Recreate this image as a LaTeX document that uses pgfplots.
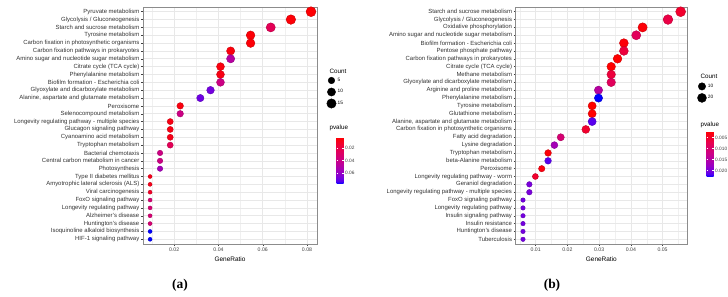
\documentclass[border=0pt]{standalone}
\usepackage{fontspec}
\setmainfont{Liberation Sans}
\newfontfamily\panelfont{Liberation Serif}
\usepackage{pgfplots}
\pgfplotsset{compat=1.18}
\usepackage{pgfplotstable}

% KEGG enrichment, panel (a)
\pgfplotstableread[col sep=semicolon]{
row;ratio;count;p;name
1;0.0818;18;0.003;Pyruvate metabolism
2;0.0727;16;0.004;Glycolysis / Gluconeogenesis
3;0.0636;14;0.0235;Starch and sucrose metabolism
4;0.0545;12;0.004;Tyrosine metabolism
5;0.0545;12;0.004;Carbon fixation in photosynthetic organisms
6;0.0455;10;0.005;Carbon fixation pathways in prokaryotes
7;0.0455;10;0.0475;Amino sugar and nucleotide sugar metabolism
8;0.0409;9;0.006;Citrate cycle (TCA cycle)
9;0.0409;9;0.007;Phenylalanine metabolism
10;0.0409;9;0.0385;Biofilm formation - Escherichia coli
11;0.0364;8;0.068;Glyoxylate and dicarboxylate metabolism
12;0.0318;7;0.069;Alanine, aspartate and glutamate metabolism
13;0.0227;5;0.006;Peroxisome
14;0.0227;5;0.0385;Selenocompound metabolism
15;0.0182;4;0.007;Longevity regulating pathway - multiple species
16;0.0182;4;0.007;Glucagon signaling pathway
17;0.0182;4;0.008;Cyanoamino acid metabolism
18;0.0182;4;0.0235;Tryptophan metabolism
19;0.0136;3;0.038;Bacterial chemotaxis
20;0.0136;3;0.038;Central carbon metabolism in cancer
21;0.0136;3;0.055;Photosynthesis
22;0.0091;2;0.0085;Type II diabetes mellitus
23;0.0091;2;0.0085;Amyotrophic lateral sclerosis (ALS)
24;0.0091;2;0.0115;Viral carcinogenesis
25;0.0091;2;0.0325;FoxO signaling pathway
26;0.0091;2;0.0325;Longevity regulating pathway
27;0.0091;2;0.0325;Alzheimer's disease
28;0.0091;2;0.0325;Huntington's disease
29;0.0091;2;0.0776;Isoquinoline alkaloid biosynthesis
30;0.0091;2;0.0776;HIF-1 signaling pathway
}\tabA

% KEGG enrichment, panel (b)
\pgfplotstableread[col sep=semicolon]{
row;ratio;count;p;name
1;0.0557;28;0.005;Starch and sucrose metabolism
2;0.0517;26;0.0066;Glycolysis / Gluconeogenesis
3;0.0437;22;0.0025;Oxidative phosphorylation
4;0.0417;21;0.0083;Amino sugar and nucleotide sugar metabolism
5;0.0378;19;0.0025;Biofilm formation - Escherichia coli
6;0.0378;19;0.006;Pentose phosphate pathway
7;0.0358;18;0.002;Carbon fixation pathways in prokaryotes
8;0.0338;17;0.002;Citrate cycle (TCA cycle)
9;0.0338;17;0.006;Methane metabolism
10;0.0338;17;0.0083;Glyoxylate and dicarboxylate metabolism
11;0.0298;15;0.0146;Arginine and proline metabolism
12;0.0298;15;0.023;Phenylalanine metabolism
13;0.0278;14;0.002;Tyrosine metabolism
14;0.0278;14;0.002;Glutathione metabolism
15;0.0278;14;0.0215;Alanine, aspartate and glutamate metabolism
16;0.0258;13;0.005;Carbon fixation in photosynthetic organisms
17;0.0179;9;0.0104;Fatty acid degradation
18;0.0159;8;0.0167;Lysine degradation
19;0.0139;7;0.0025;Tryptophan metabolism
20;0.0139;7;0.0215;beta-Alanine metabolism
21;0.0119;6;0.003;Peroxisome
22;0.0099;5;0.005;Longevity regulating pathway - worm
23;0.0080;4;0.0199;Geraniol degradation
24;0.0080;4;0.0199;Longevity regulating pathway - multiple species
25;0.0060;3;0.0203;FoxO signaling pathway
26;0.0060;3;0.0203;Longevity regulating pathway
27;0.0060;3;0.0203;Insulin signaling pathway
28;0.0060;3;0.0203;Insulin resistance
29;0.0060;3;0.0203;Huntington's disease
30;0.0060;3;0.0203;Tuberculosis
}\tabB

% colour scale runs on -p, so that small p-values (red) sit at the top of the bar
\pgfplotsset{
  colormap={pv}{rgb255(0cm)=(0,0,255) rgb255(1cm)=(84,0,240) rgb255(2cm)=(115,0,224)
    rgb255(4cm)=(154,0,195) rgb255(8cm)=(202,0,137) rgb255(12cm)=(232,0,79) rgb255(16cm)=(255,0,0)},
  dot/.style={
    scale only axis, height=237bp, anchor=south west,
    y dir=reverse, ymin=0.4, ymax=30.6, ytick={1,...,30},
    xtick pos=bottom, ytick pos=left, scaled x ticks=false,
    tick align=outside, major tick length=2bp, minor tick length=0pt,
    tick style={black!75, line width=0.45bp},
    axis line style={black!45, line width=0.5bp},
    xmajorgrids, ymajorgrids, xminorgrids,
    major grid style={black!9, line width=0.6bp},
    minor grid style={black!6, line width=0.35bp},
    y tick label style={font=\fontsize{6}{6}\selectfont, text=black!80, inner sep=1.5bp},
    x tick label style={font=\fontsize{5.2}{5.2}\selectfont, text=black!75, inner sep=1.5bp,
      /pgf/number format/fixed, /pgf/number format/fixed zerofill,
      /pgf/number format/precision=2, /pgf/number format/assume math mode=true},
    colormap name=pv,
    legend cell align=left,
    legend style={draw=none, fill=none, font=\fontsize{4.8}{4.8}\selectfont,
      inner sep=0pt, row sep=0pt, column sep=1bp,
      nodes={inner sep=0.5bp, minimum height=11.5bp}},
    legend image code/.code={\draw[#1] plot coordinates {(0bp,0bp)};},
  },
  cbar/.style={
    scale only axis, width=7bp, scaled y ticks=false,
    axis line style={draw=none},
    tick align=inside, major tick length=1.6bp,
    tick style={white, line width=0.5bp},
    yticklabel pos=right,
    yticklabel style={font=\fontsize{4.8}{4.8}\selectfont, text=black!75, inner sep=1.5bp},
  },
}

\begin{document}
\begin{tikzpicture}
\useasboundingbox (0,0) rectangle (728bp,297bp);

% ---------- panel (a) ----------
\begin{axis}[dot, name=A, at={(143bp,53bp)}, width=174bp,
  xmin=0.0059, xmax=0.0845,
  xtick={0.02,0.04,0.06,0.08}, minor xtick={0.01,0.03,0.05,0.07},
  yticklabels from table={\tabA}{name},
  point meta min=-0.0776, point meta max=-0.0024,
  colorbar,
  colorbar style={cbar, at={(parent axis.north east)}, anchor=north west,
    xshift=11bp, yshift=-130bp, height=47bp,
    ytick={-0.06,-0.04,-0.02}, yticklabels={0.06,0.04,0.02}},
  legend style={at={(axis description cs:1.055,0.715)}, anchor=north west},
]
\addplot[scatter, only marks, mark=*, forget plot,
  point meta={-\thisrow{p}},
  visualization depends on={2+3*sqrt((\thisrow{count}-2)/16) \as \msz},
  scatter/@pre marker code/.append style={/tikz/mark size=\msz}]
  table[x=ratio, y=row] {\tabA};
\addlegendimage{only marks, mark=*, black, mark size=3.3bp}
\addlegendentry{5}
\addlegendimage{only marks, mark=*, black, mark size=4.1bp}
\addlegendentry{10}
\addlegendimage{only marks, mark=*, black, mark size=4.7bp}
\addlegendentry{15}
\end{axis}
\node[anchor=north] at ([yshift=-9bp]A.south) {\fontsize{6.5}{6.5}\selectfont GeneRatio};
\node[anchor=west] at (326bp,226bp) {\fontsize{6.3}{6.3}\selectfont Count};
\node[anchor=west] at (326bp,169bp) {\fontsize{6.3}{6.3}\selectfont pvalue};
\node at (180bp,12bp) {\panelfont\fontsize{13.5}{13.5}\selectfont\bfseries (a)};

% ---------- panel (b) ----------
\begin{axis}[dot, name=B, at={(515.7bp,53bp)}, width=171.3bp,
  xmin=0.0037, xmax=0.0577,
  xtick={0.01,0.02,0.03,0.04,0.05}, minor xtick={0.005,0.015,0.025,0.035,0.045,0.055},
  yticklabels from table={\tabB}{name},
  point meta min=-0.023, point meta max=-0.002,
  colorbar,
  colorbar style={cbar, at={(parent axis.north east)}, anchor=north west,
    xshift=11bp, yshift=-124bp, height=46bp,
    ytick={-0.02,-0.015,-0.01,-0.005}, yticklabels={0.020,0.015,0.010,0.005}},
  legend style={at={(axis description cs:1.06,0.69)}, anchor=north west},
]
\addplot[scatter, only marks, mark=*, forget plot,
  point meta={-\thisrow{p}},
  visualization depends on={2.25+2.75*sqrt((\thisrow{count}-3)/25) \as \msz},
  scatter/@pre marker code/.append style={/tikz/mark size=\msz}]
  table[x=ratio, y=row] {\tabB};
\addlegendimage{only marks, mark=*, black, mark size=3.7bp}
\addlegendentry{10}
\addlegendimage{only marks, mark=*, black, mark size=4.5bp}
\addlegendentry{20}
\end{axis}
\node[anchor=north] at ([yshift=-9bp]B.south) {\fontsize{6.5}{6.5}\selectfont GeneRatio};
\node[anchor=west] at (697bp,221bp) {\fontsize{6.3}{6.3}\selectfont Count};
\node[anchor=west] at (697bp,172bp) {\fontsize{6.3}{6.3}\selectfont pvalue};
\node at (552bp,12bp) {\panelfont\fontsize{13.5}{13.5}\selectfont\bfseries (b)};
\end{tikzpicture}
\end{document}
